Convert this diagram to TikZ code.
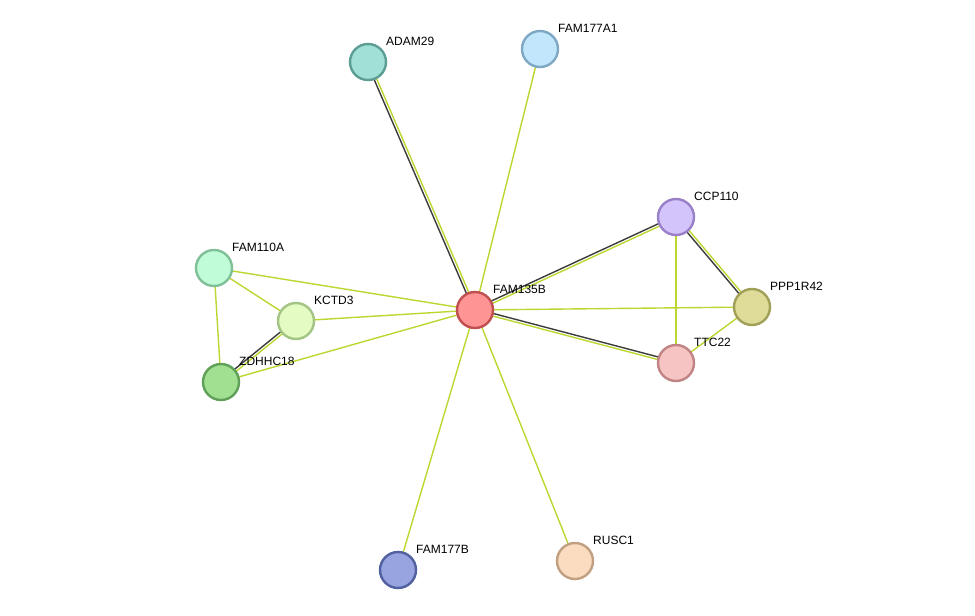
\documentclass[tikz,border=0pt]{standalone}
\usepackage{fontspec}
\setmainfont{Liberation Sans}
\usetikzlibrary{calc}
\definecolor{tm}{RGB}{190,214,48}
\definecolor{co}{RGB}{60,60,60}
\tikzset{
  prot/.style={circle,minimum size=36pt,inner sep=0pt,line width=2.4pt},
  lbl/.style={anchor=west,inner sep=0pt,font=\fontsize{12}{14}\selectfont,text=black},
  gline/.style={draw=tm,line width=1.4pt},
  kline/.style={draw=co,line width=1.4pt},
}
\newcommand{\dedge}[3]{%
  \draw[kline] ($(#1)!1.3pt!#3:(#2)$) -- ($(#2)!1.3pt!-#3:(#1)$);
  \draw[gline] ($(#1)!1.3pt!-#3:(#2)$) -- ($(#2)!1.3pt!#3:(#1)$);
}
\begin{document}
\begin{tikzpicture}[x=1pt,y=-1pt]
\useasboundingbox (0,0) rectangle (975,616);
\fill[white] (0,0) rectangle (975,616);
% coordinates of protein centres
\coordinate (ADAM) at (368,62);
\coordinate (F177A1) at (540,49);
\coordinate (F135B) at (475,310);
\coordinate (CCP) at (676,217);
\coordinate (PPP) at (752,307);
\coordinate (TTC) at (676,363);
\coordinate (F110A) at (214,268);
\coordinate (KCTD) at (296,321);
\coordinate (ZDH) at (221,382);
\coordinate (F177B) at (398,570);
\coordinate (RUSC) at (575,561);
% edges
\draw[gline] (F177A1) -- (F135B);
\draw[gline] (F110A) -- (F135B);
\draw[gline] (F110A) -- (KCTD);
\draw[gline] (F110A) -- (ZDH);
\draw[gline] (KCTD) -- (F135B);
\draw[gline] (ZDH) -- (F135B);
\draw[gline] (F135B) -- (PPP);
\draw[gline] (CCP) -- (TTC);
\draw[gline] (PPP) -- (TTC);
\draw[gline] (F135B) -- (F177B);
\draw[gline] (F135B) -- (RUSC);
\dedge{ADAM}{F135B}{-90}
\dedge{KCTD}{ZDH}{-90}
\dedge{F135B}{CCP}{90}
\dedge{F135B}{TTC}{90}
\dedge{CCP}{PPP}{-90}
% nodes
\node[prot,fill={rgb,255:red,160;green,224;blue,214},draw={rgb,255:red,92;green,158;blue,148}] (nADAM) at (ADAM) {};
\node[prot,fill={rgb,255:red,194;green,230;blue,251},draw={rgb,255:red,127;green,168;blue,196}] (nF177A1) at (F177A1) {};
\node[prot,fill={rgb,255:red,255;green,148;blue,148},draw={rgb,255:red,192;green,80;blue,80}] (nF135B) at (F135B) {};
\node[prot,fill={rgb,255:red,212;green,196;blue,252},draw={rgb,255:red,153;green,128;blue,200}] (nCCP) at (CCP) {};
\node[prot,fill={rgb,255:red,222;green,220;blue,152},draw={rgb,255:red,160;green,160;blue,88}] (nPPP) at (PPP) {};
\node[prot,fill={rgb,255:red,247;green,196;blue,196},draw={rgb,255:red,192;green,132;blue,132}] (nTTC) at (TTC) {};
\node[prot,fill={rgb,255:red,192;green,252;blue,216},draw={rgb,255:red,128;green,192;blue,152}] (nF110A) at (F110A) {};
\node[prot,fill={rgb,255:red,228;green,252;blue,196},draw={rgb,255:red,164;green,196;blue,132}] (nKCTD) at (KCTD) {};
\node[prot,fill={rgb,255:red,160;green,224;blue,144},draw={rgb,255:red,96;green,160;blue,88}] (nZDH) at (ZDH) {};
\node[prot,fill={rgb,255:red,152;green,164;blue,224},draw={rgb,255:red,80;green,96;blue,160}] (nF177B) at (F177B) {};
\node[prot,fill={rgb,255:red,252;green,220;blue,192},draw={rgb,255:red,192;green,160;blue,128}] (nRUSC) at (RUSC) {};
% labels
\node[lbl] (lADAM) at ($(ADAM)+(18,-21)$) {ADAM29};
\node[lbl] (lF177A1) at ($(F177A1)+(18,-21)$) {FAM177A1};
\node[lbl] (lF135B) at ($(F135B)+(18,-21)$) {FAM135B};
\node[lbl] (lCCP) at ($(CCP)+(18,-21)$) {CCP110};
\node[lbl] (lPPP) at ($(PPP)+(18,-21)$) {PPP1R42};
\node[lbl] (lTTC) at ($(TTC)+(18,-21)$) {TTC22};
\node[lbl] (lF110A) at ($(F110A)+(18,-21)$) {FAM110A};
\node[lbl] (lKCTD) at ($(KCTD)+(18,-21)$) {KCTD3};
\node[lbl] (lZDH) at ($(ZDH)+(18,-21)$) {ZDHHC18};
\node[lbl] (lF177B) at ($(F177B)+(18,-21)$) {FAM177B};
\node[lbl] (lRUSC) at ($(RUSC)+(18,-21)$) {RUSC1};
\end{tikzpicture}
\end{document}
